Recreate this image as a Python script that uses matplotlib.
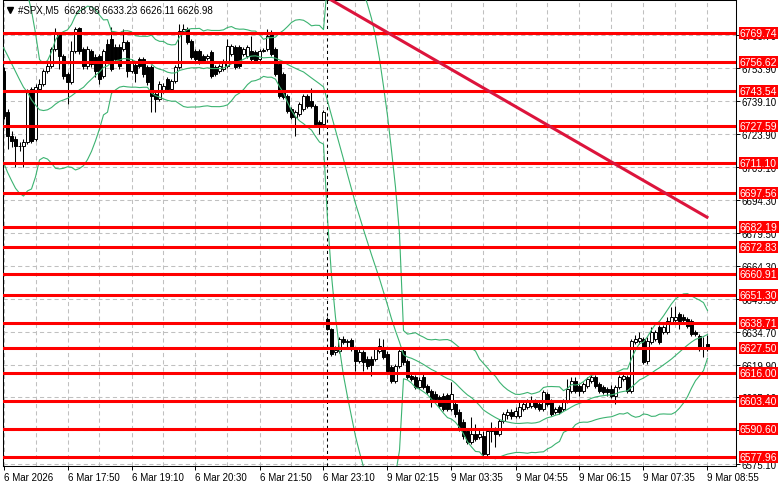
import matplotlib
matplotlib.use('Agg')
import matplotlib.pyplot as plt
import numpy as np
import pandas as pd

plt.rcParams['font.family'] = ['Liberation Sans', 'DejaVu Sans']

# #SPX M5 candles, bar 0 = 6 Mar 16:30, bar 81 = first bar of 9 Mar (weekend gap)
opens = [
    6752.5, 6734.0, 6723.1, 6721.8, 6718.6, 6718.6, 6720.4, 6744.3, 6721.8, 6744.3,
    6746.6, 6752.5, 6754.7, 6762.4, 6769.2, 6759.3, 6751.1, 6747.5, 6761.5, 6771.9,
    6762.4, 6754.7, 6761.5, 6758.8, 6759.3, 6750.2, 6764.7, 6766.9, 6763.3, 6763.3,
    6762.4, 6765.6, 6752.5, 6755.2, 6757.9, 6757.9, 6754.3, 6754.3, 6742.1, 6739.8,
    6743.4, 6748.9, 6744.3, 6748.0, 6754.3, 6770.5, 6771.4, 6766.0, 6761.5, 6761.5,
    6759.3, 6758.4, 6761.1, 6754.3, 6752.5, 6753.4, 6754.7, 6760.2, 6763.3, 6763.3,
    6760.2, 6759.3, 6761.5, 6761.1, 6757.9, 6761.5, 6762.4, 6770.1, 6762.4, 6755.6,
    6751.1, 6741.2, 6735.3, 6731.7, 6733.1, 6735.3, 6741.2, 6738.9, 6736.7, 6729.4,
    6728.5,
    6640.5, 6635.9, 6625.6, 6626.0, 6631.4, 6630.1, 6631.0, 6626.9, 6621.5,
    6625.6, 6622.4, 6622.4, 6622.4, 6626.0, 6627.8, 6624.6, 6618.8, 6612.5, 6619.2,
    6626.0, 6621.5, 6614.7, 6614.3, 6609.7, 6614.3, 6610.2, 6607.9, 6606.6, 6605.2,
    6605.7, 6606.1, 6599.8, 6602.1, 6598.5, 6593.9, 6589.9, 6584.9, 6588.5, 6587.2,
    6587.6, 6579.5, 6589.9, 6590.8, 6588.5, 6594.4, 6597.1, 6598.5, 6596.6, 6596.6,
    6599.8, 6600.7, 6601.2, 6603.0, 6602.1, 6599.8, 6606.6, 6603.4, 6598.5, 6600.7,
    6599.8, 6603.4, 6607.9, 6612.5, 6610.2, 6607.9, 6610.2, 6612.5, 6614.3, 6611.1,
    6609.7, 6608.8, 6608.8, 6605.7, 6609.7, 6613.4, 6614.3, 6607.9, 6630.1, 6630.5,
    6631.4, 6621.5, 6630.1, 6631.4, 6636.8, 6634.6, 6634.6, 6639.1, 6640.0, 6642.7,
    6641.4, 6640.5, 6639.6, 6634.6, 6632.8, 6627.4, 6628.98,
]
highs = [
    6754.3, 6735.3, 6725.4, 6723.1, 6720.4, 6721.8, 6744.3, 6745.3, 6746.6, 6748.9,
    6753.4, 6757.0, 6763.3, 6771.9, 6770.1, 6760.2, 6752.0, 6766.0, 6772.4, 6772.4,
    6763.3, 6763.8, 6762.4, 6760.2, 6760.2, 6762.4, 6766.9, 6772.4, 6764.7, 6764.7,
    6771.4, 6766.5, 6757.9, 6757.0, 6758.8, 6758.8, 6755.2, 6755.2, 6743.0, 6748.0,
    6747.1, 6749.8, 6748.9, 6755.2, 6773.7, 6773.7, 6772.4, 6766.9, 6762.4, 6762.4,
    6760.2, 6760.2, 6762.0, 6755.2, 6755.6, 6757.9, 6766.9, 6764.7, 6764.2, 6764.2,
    6763.3, 6764.2, 6768.3, 6762.0, 6762.4, 6762.9, 6771.4, 6771.0, 6763.3, 6756.5,
    6752.0, 6742.1, 6736.2, 6734.9, 6738.5, 6742.1, 6742.1, 6744.8, 6737.6, 6730.3,
    6734.9,
    6641.4, 6636.4, 6628.3, 6632.3, 6632.8, 6631.4, 6631.9, 6627.8, 6626.9,
    6626.5, 6623.7, 6623.7, 6627.8, 6631.9, 6631.4, 6626.0, 6619.7, 6620.1, 6627.4,
    6626.9, 6622.4, 6615.6, 6615.2, 6614.3, 6615.6, 6611.1, 6608.8, 6607.9, 6606.1,
    6607.0, 6607.0, 6612.0, 6603.0, 6599.8, 6595.3, 6590.8, 6596.2, 6593.0, 6590.8,
    6589.9, 6590.8, 6593.9, 6591.7, 6595.3, 6598.5, 6599.8, 6599.8, 6600.7, 6603.4,
    6603.4, 6604.3, 6605.7, 6604.3, 6603.0, 6608.4, 6607.5, 6604.3, 6600.7, 6601.6,
    6604.3, 6613.4, 6614.3, 6614.3, 6611.1, 6612.0, 6614.3, 6615.2, 6615.2, 6612.0,
    6610.6, 6609.7, 6610.6, 6610.6, 6615.2, 6616.1, 6615.2, 6631.4, 6633.2, 6634.6,
    6632.3, 6632.3, 6636.8, 6635.5, 6637.7, 6637.7, 6641.4, 6645.9, 6646.3, 6643.6,
    6642.7, 6641.4, 6640.5, 6635.5, 6633.7, 6632.3, 6633.23,
]
lows = [
    6730.8, 6717.2, 6718.2, 6709.1, 6716.3, 6709.1, 6719.5, 6720.0, 6720.9, 6743.4,
    6745.7, 6751.6, 6753.8, 6761.5, 6753.4, 6748.9, 6737.6, 6746.6, 6760.6, 6760.2,
    6753.4, 6753.4, 6754.3, 6749.8, 6746.6, 6749.3, 6756.1, 6752.5, 6757.0, 6753.4,
    6761.5, 6749.8, 6751.6, 6747.5, 6753.8, 6749.8, 6746.2, 6734.0, 6734.0, 6738.9,
    6742.5, 6743.4, 6743.4, 6747.1, 6753.4, 6769.6, 6764.7, 6757.9, 6757.0, 6755.6,
    6756.1, 6757.4, 6749.3, 6750.2, 6751.6, 6752.5, 6753.8, 6759.3, 6753.4, 6753.8,
    6759.3, 6758.4, 6757.0, 6756.1, 6757.0, 6761.1, 6761.5, 6759.3, 6750.2, 6740.3,
    6739.8, 6733.5, 6730.8, 6723.1, 6732.2, 6734.4, 6735.8, 6735.8, 6727.6, 6724.0,
    6727.6,
    6635.5, 6623.7, 6624.2, 6625.1, 6629.2, 6626.9, 6626.0, 6617.0, 6620.6,
    6617.0, 6617.9, 6614.7, 6621.5, 6625.1, 6622.4, 6616.1, 6611.6, 6611.6, 6618.3,
    6619.7, 6613.4, 6612.5, 6608.8, 6608.8, 6608.8, 6606.6, 6600.7, 6603.0, 6600.3,
    6598.9, 6598.9, 6598.9, 6596.2, 6589.9, 6586.3, 6584.0, 6584.0, 6585.4, 6586.3,
    6578.6, 6578.6, 6584.9, 6582.6, 6587.6, 6593.5, 6595.3, 6595.3, 6595.7, 6595.7,
    6598.9, 6599.8, 6600.3, 6599.8, 6598.9, 6598.9, 6601.2, 6596.6, 6597.5, 6597.5,
    6598.9, 6602.5, 6607.0, 6607.0, 6605.7, 6607.0, 6609.3, 6611.6, 6609.3, 6607.0,
    6606.6, 6605.7, 6604.8, 6602.1, 6608.8, 6612.5, 6607.0, 6607.0, 6629.2, 6629.2,
    6620.1, 6620.1, 6629.2, 6630.5, 6629.2, 6633.7, 6633.7, 6638.2, 6639.1, 6635.9,
    6639.1, 6636.4, 6632.8, 6632.8, 6626.0, 6623.3, 6626.11,
]
closes = [
    6732.2, 6723.1, 6720.9, 6718.6, 6718.4, 6720.4, 6743.4, 6720.9, 6745.3, 6746.6,
    6752.5, 6754.7, 6762.4, 6769.2, 6759.3, 6750.2, 6747.5, 6761.5, 6771.4, 6761.5,
    6754.7, 6762.4, 6755.6, 6752.5, 6748.9, 6761.5, 6757.0, 6753.4, 6757.9, 6754.7,
    6765.6, 6752.5, 6756.5, 6751.6, 6754.7, 6751.1, 6747.5, 6741.2, 6739.8, 6746.6,
    6745.7, 6744.3, 6748.0, 6754.3, 6770.5, 6771.4, 6765.6, 6758.8, 6757.9, 6756.5,
    6757.0, 6759.3, 6750.2, 6751.1, 6754.7, 6756.5, 6763.8, 6763.8, 6754.3, 6754.7,
    6762.4, 6763.3, 6757.9, 6757.0, 6761.5, 6762.0, 6768.3, 6760.2, 6751.1, 6741.2,
    6740.7, 6734.4, 6731.7, 6734.0, 6737.6, 6741.2, 6736.7, 6736.7, 6728.5, 6728.1,
    6734.0,
    6635.9, 6624.6, 6626.5, 6631.4, 6630.1, 6630.5, 6626.9, 6621.5, 6625.6,
    6621.0, 6619.2, 6619.7, 6626.9, 6628.3, 6623.3, 6617.0, 6612.5, 6619.2, 6626.0,
    6621.0, 6614.3, 6613.4, 6609.7, 6612.9, 6609.7, 6607.5, 6604.3, 6604.3, 6601.2,
    6599.8, 6599.8, 6606.6, 6597.5, 6590.8, 6587.6, 6584.9, 6588.5, 6586.3, 6588.5,
    6579.5, 6589.9, 6590.8, 6588.5, 6594.4, 6597.5, 6598.5, 6596.6, 6598.9, 6600.7,
    6602.1, 6603.0, 6603.4, 6600.7, 6599.8, 6607.5, 6602.1, 6597.5, 6599.8, 6598.5,
    6603.4, 6608.8, 6612.5, 6607.9, 6607.9, 6611.1, 6613.4, 6614.3, 6610.2, 6607.9,
    6607.5, 6607.5, 6605.7, 6609.7, 6614.3, 6614.7, 6607.9, 6630.5, 6631.4, 6631.9,
    6621.0, 6630.5, 6634.6, 6634.6, 6630.1, 6636.8, 6639.6, 6641.4, 6641.4, 6639.6,
    6640.0, 6637.3, 6633.7, 6633.7, 6626.9, 6627.8, 6626.98,
]
# closes of the 19 bars before the visible window (only to warm up the bands)
prior_closes = [6792, 6794, 6790, 6793, 6789, 6791, 6788, 6792, 6789,
                6760, 6748, 6742, 6738, 6735, 6737, 6733, 6739, 6744, 6734]

levels = [6769.74, 6756.62, 6743.54, 6727.59, 6711.10, 6697.56, 6682.19, 6672.83,
          6660.91, 6651.30, 6638.71, 6627.50, 6616.00, 6603.40, 6590.60, 6577.96]
price_ticks = [6768.70, 6753.90, 6739.10, 6723.90, 6709.10, 6694.30, 6679.50,
               6664.30, 6649.50, 6634.70, 6619.90, 6605.10, 6590.30, 6575.10]
time_labels = ['6 Mar 2026', '6 Mar 17:50', '6 Mar 19:10', '6 Mar 20:30',
               '6 Mar 21:50', '6 Mar 23:10', '9 Mar 02:15', '9 Mar 03:35',
               '9 Mar 04:55', '9 Mar 06:15', '9 Mar 07:35', '9 Mar 08:55']
trend_bars = [81.5, 176.2]
trend_prices = [6785.0, 6686.1]
day_break_bar = 81

o = np.array(opens)
h = np.array(highs)
l = np.array(lows)
c = np.array(closes)
x = np.arange(len(c))

# Bollinger bands (20, 2)
allc = pd.Series(prior_closes + closes)
mid = allc.rolling(20).mean()
sd = allc.rolling(20).std(ddof=0)
mid = mid.values[len(prior_closes):]
upper = mid + 2 * sd.values[len(prior_closes):]
lower = mid - 2 * sd.values[len(prior_closes):]

W, H = 781, 489
fig = plt.figure(figsize=(W / 100, H / 100), dpi=100)
fig.patch.set_facecolor('white')
ax = fig.add_axes([2.7 / W, 22 / H, 733 / W, 466 / H])
ax.set_xlim(-0.2, 183.05)
ax.set_ylim(6574.06, 6784.55)

# grid
ax.set_xticks(np.arange(0, 177, 16))
ax.set_xticks(np.arange(8, 184, 16), minor=True)
ax.set_xticklabels(time_labels)
for lab in ax.get_xticklabels():
    lab.set_ha('left')
ax.set_yticks(price_ticks)
ax.set_yticklabels([f'{v:.2f}' for v in price_ticks])
ax.grid(True, which='both', color='#C0C0C0', lw=0.75, ls=(0, (4, 3)), zorder=0)
ax.set_axisbelow(True)

ax.yaxis.tick_right()
ax.tick_params(axis='y', which='major', length=3, width=0.7, pad=1.5, labelsize=7, colors='black')
ax.tick_params(axis='x', which='major', length=3, width=0.7, pad=1.5, labelsize=7)
ax.tick_params(axis='x', which='minor', length=0)
for s in ax.spines.values():
    s.set_color('black')
    s.set_linewidth(0.75)

# day separator
ax.axvline(day_break_bar, color='black', lw=0.75, ls=(0, (3, 3)), zorder=1)

# candles
up = c >= o
ax.vlines(x, l, h, color='black', lw=0.75, zorder=3)
ax.bar(x, np.abs(c - o), bottom=np.minimum(o, c), width=0.55,
       color=np.where(up, 'white', 'black'), edgecolor='black', linewidth=0.7, zorder=4)

# bands
for band in (upper, mid, lower):
    ax.plot(x, band, color='#3CB371', lw=0.8, zorder=5)

# horizontal levels
for lv in levels:
    ax.axhline(lv, color='#FF0000', lw=2.2, zorder=6)
    ax.annotate(f'{lv:.2f}', xy=(1, lv), xycoords=('axes fraction', 'data'),
                xytext=(4, 0), textcoords='offset pixels', ha='left', va='center',
                color='white', fontsize=7.5, annotation_clip=False, zorder=10,
                bbox=dict(boxstyle='square,pad=0.1', fc='#FF0000', ec='none'))

# trend line
ax.plot(trend_bars, trend_prices, color='#DC143C', lw=2.2, zorder=7, solid_capstyle='butt')

# header
ax.plot([7.3 / 733], [1 - 10 / 466], marker='v', ms=4, color='black',
        transform=ax.transAxes, clip_on=False, zorder=11)
ax.text(15.3 / 733, 1 - 9.7 / 466, '#SPX,M5  6628.98 6633.23 6626.11 6626.98',
        transform=ax.transAxes, ha='left', va='center', fontsize=7, color='black', zorder=11)

fig.savefig('out.png', dpi=100, facecolor='white')
